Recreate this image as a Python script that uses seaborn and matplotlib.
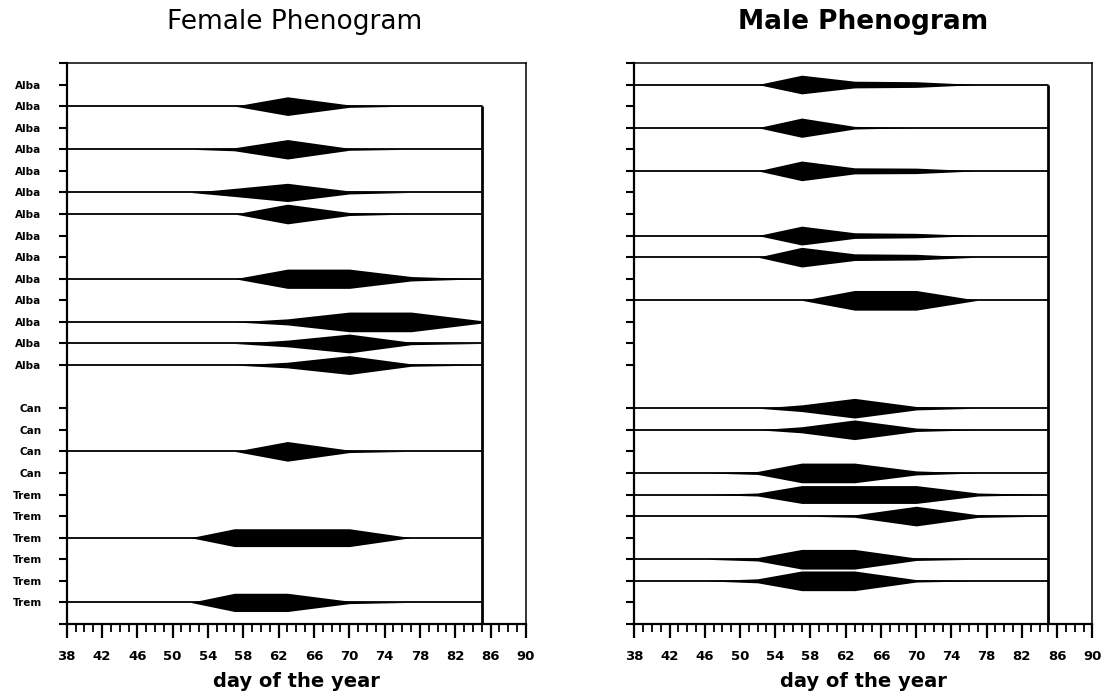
import numpy as np
import pandas as pd
import matplotlib
matplotlib.use("Agg")
import matplotlib.pyplot as plt
import seaborn as sns
from matplotlib.ticker import MultipleLocator

# ---- data ----
days = [46, 52, 57, 63, 70, 77, 85]          # sampling days
line_start = 38
line_end = 85

row_labels = ["Alba"] * 14 + ["Can"] * 4 + ["Trem"] * 6
label_positions = list(range(1, 15)) + list(range(16, 26))

female_rows = [2, 4, 6, 7, 10, 12, 13, 14, 18, 22, 25]
female_w = [
    [0, 0, 0, 92, 12, 0, 0],
    [0, 0, 15, 96, 10, 0, 0],
    [0, 0, 40, 90, 15, 0, 0],
    [0, 0, 0, 97, 15, 0, 0],
    [0, 0, 0, 95, 95, 22, 0],
    [0, 0, 0, 30, 97, 97, 12],
    [0, 0, 0, 33, 93, 12, 0],
    [0, 0, 0, 28, 93, 12, 0],
    [0, 0, 0, 97, 12, 0, 0],
    [0, 0, 88, 88, 88, 0, 0],
    [0, 0, 90, 90, 12, 0, 0],
]

male_rows = [1, 3, 5, 8, 9, 11, 16, 17, 19, 20, 21, 23, 24]
male_w = [
    [0, 0, 92, 33, 28, 0, 0],
    [0, 0, 95, 13, 0, 0, 0],
    [0, 0, 97, 30, 27, 0, 0],
    [0, 0, 93, 28, 22, 0, 0],
    [0, 0, 97, 33, 28, 0, 0],
    [0, 0, 0, 97, 97, 0, 0],
    [0, 0, 33, 97, 17, 0, 0],
    [0, 0, 30, 97, 17, 0, 0],
    [0, 15, 97, 97, 20, 0, 0],
    [0, 15, 88, 88, 88, 15, 0],
    [0, 0, 0, 12, 97, 13, 0],
    [0, 17, 97, 97, 12, 0, 0],
    [0, 20, 97, 97, 12, 0, 0],
]

x_ticks = list(range(38, 91, 4))

# ---- style ----
sns.set_theme(style="ticks")
plt.rcParams['font.family'] = ['DejaVu Sans']

fig = plt.figure(figsize=(11.15, 6.95), dpi=100)
axL = fig.add_axes([0.0598, 0.1022, 0.4119, 0.8072])
axR = fig.add_axes([0.5689, 0.1022, 0.4108, 0.8072])

SCALE = 0.47 / 100.0


def draw(ax, rows, widths, show_labels):
    df = pd.DataFrame({
        "day": [line_start, line_end] * len(rows),
        "pos": np.repeat(rows, 2),
        "row": np.repeat(np.arange(len(rows)), 2),
    })
    sns.lineplot(data=df, x="day", y="pos", units="row", estimator=None,
                 color="black", lw=1.3, ax=ax, sort=False)
    for r, w in zip(rows, widths):
        h = np.array(w, dtype=float) * SCALE
        ax.fill_between(days, r - h, r + h, color="black", lw=0)
    ax.vlines(line_end, min(rows), 26, color="black", lw=2)

    ax.set_xlim(38, 90)
    ax.set_ylim(26, 0)

    yt = [0] + label_positions + [26]
    ax.set_yticks(yt)
    if show_labels:
        ax.set_yticklabels([""] + row_labels + [""], fontweight="bold", fontsize=7.5)
    else:
        ax.set_yticklabels([""] * len(yt))
    ax.set_xticks(x_ticks)
    ax.set_xticklabels([str(t) for t in x_ticks], fontweight="bold", fontsize=9.5)
    ax.xaxis.set_minor_locator(MultipleLocator(1))

    ax.tick_params(axis="y", length=6, width=1.5, pad=12, color="black", labelcolor="black")
    ax.tick_params(axis="x", which="major", length=10, width=1.6, pad=9, color="black", labelcolor="black")
    ax.tick_params(axis="x", which="minor", length=5.5, width=1.3, color="black")

    for s in ["left", "bottom"]:
        ax.spines[s].set_linewidth(1.6)
        ax.spines[s].set_color("black")
    for s in ["top", "right"]:
        ax.spines[s].set_linewidth(1.1)
        ax.spines[s].set_color("black")
        ax.spines[s].set_visible(True)

    ax.set_ylabel("")
    ax.set_xlabel("day of the year", fontweight="bold", fontsize=14, labelpad=6, color="black")


draw(axL, female_rows, female_w, True)
draw(axR, male_rows, male_w, False)

fig.text(0.2646, 0.968, "Female Phenogram", ha="center", va="center",
         fontsize=19, fontweight="normal", color="black")
fig.text(0.7740, 0.968, "Male Phenogram", ha="center", va="center",
         fontsize=19, fontweight="bold", color="black")

fig.savefig("out.png", dpi=100, facecolor="white")
